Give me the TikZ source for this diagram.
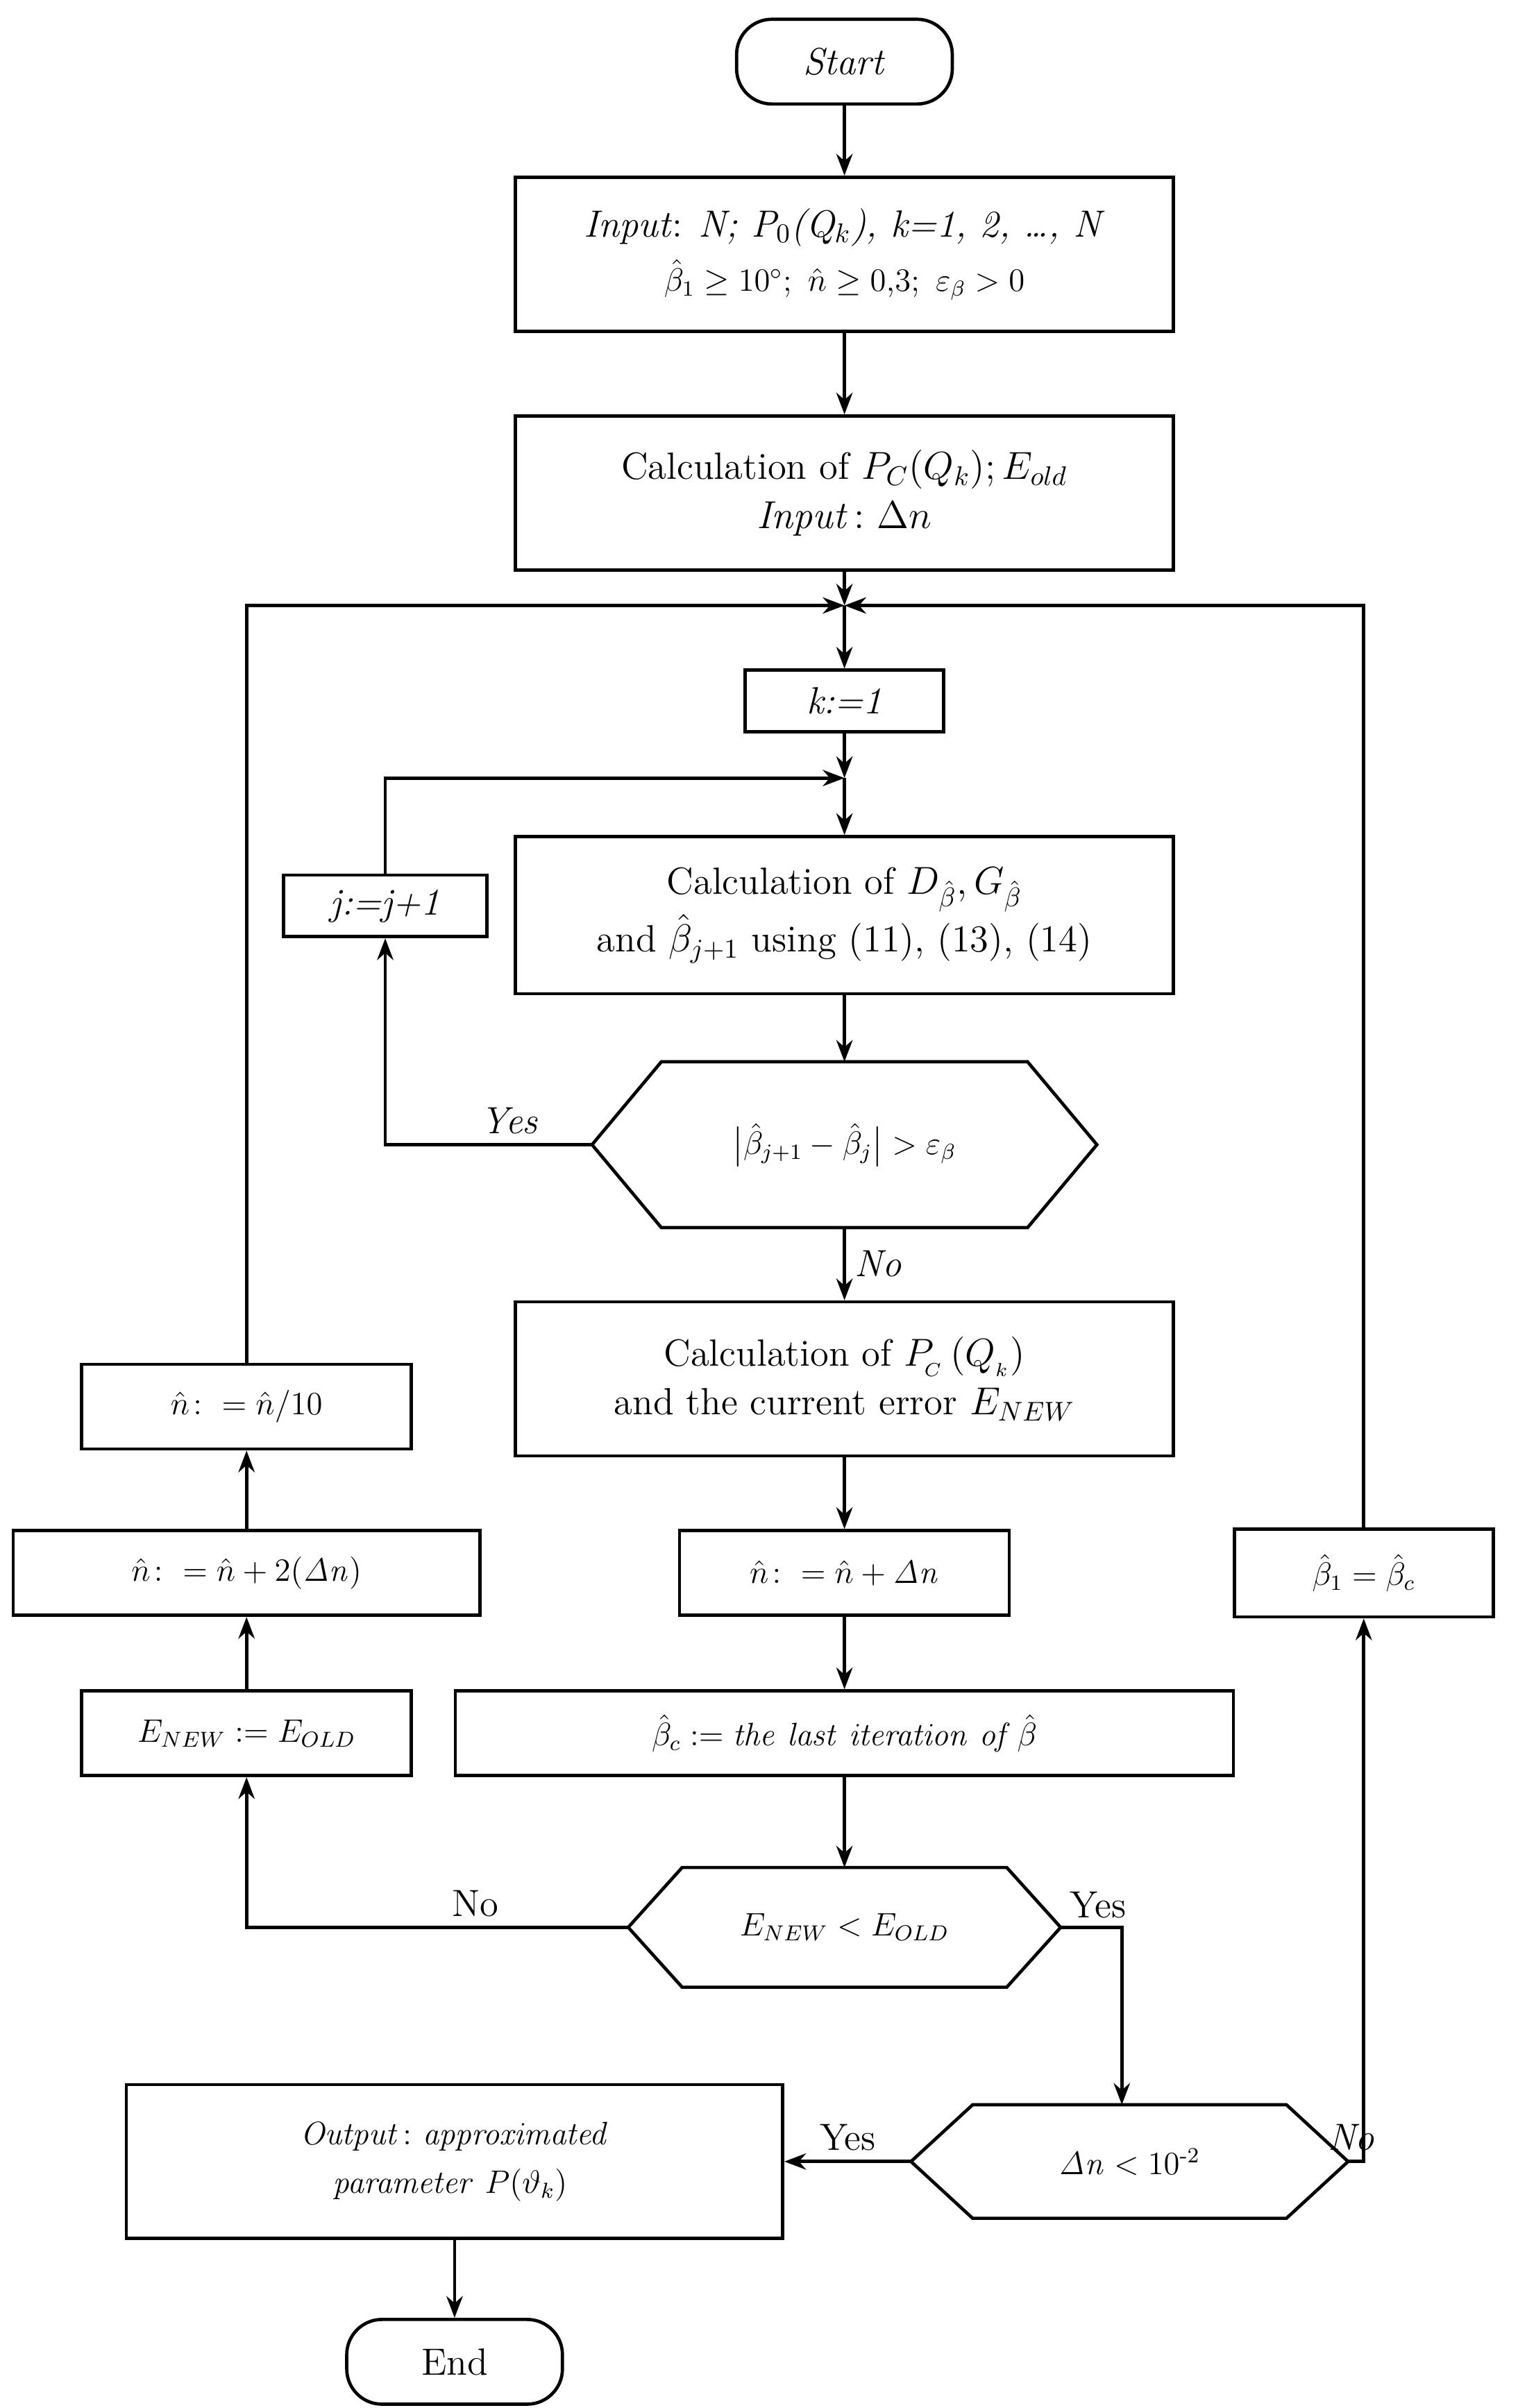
\documentclass[tikz,border=0pt]{standalone}
\usepackage{amsmath}
\usetikzlibrary{calc,arrows.meta}
\newcommand{\cdef}{\mathrel{:=}}
\begin{document}
\begin{tikzpicture}[x=0.02cm,y=-0.02cm,
    box/.style={draw,line width=1.2pt,align=center,inner sep=2pt,font=\fontsize{14}{18}\selectfont},
    term/.style={box,rounded corners=13pt,minimum width=2.8cm,minimum height=1.1cm},
    hexa/.style={align=center,inner sep=0pt,font=\fontsize{14}{18}\selectfont},
    line/.style={line width=1.2pt},
    arr/.style={line,-{Stealth[length=8pt,width=6pt]}},
    lab/.style={font=\fontsize{14}{17}\selectfont}]
\useasboundingbox (0,0) rectangle (985,1563);
% terminals and boxes
\node[term] (start) at (548,40) {\textit{Start}};
\node[box,minimum width=8.54cm,minimum height=2cm] (inp) at (548,165)
  {\textit{Input}: \textit{N; P$_0$(Q$_k$), k=1, 2, \dots, N}\\[2pt]
   \large$\hat\beta_1\ge 10^\circ;\ \hat n\ge 0{,}3;\ \varepsilon_\beta>0$};
\node[box,minimum width=8.54cm,minimum height=2cm] (calc) at (548,320)
  {Calculation of $P_C(Q_k);E_{old}$\\ $\mathit{Input}\colon\Delta n$};
\coordinate (mrg) at (548,393);
\node[box,minimum width=2.58cm,minimum height=0.8cm] (k) at (548,455) {\textit{k:=1}};
\coordinate (jnc) at (548,505);
\node[box,minimum width=8.54cm,minimum height=2.04cm] (dcalc) at (548,594)
  {Calculation of $D_{\hat\beta},G_{\hat\beta}$\\ and $\hat\beta_{j+1}$ using (11), (13), (14)};
\node[box,minimum width=2.64cm,minimum height=0.8cm] (j) at (250,588) {\textit{j:=j+1}};
\node[hexa,minimum width=6.54cm,minimum height=2.14cm] (h1) at (548,743)
  {\large$\bigl|\hat\beta_{j+1}-\hat\beta_j\bigr|>\varepsilon_\beta$};
\node[box,minimum width=8.54cm,minimum height=2cm] (pc) at (548,895)
  {Calculation of $P_{\!_C}\,(Q_{_k})$\\ and the current error $E_{NEW}$};
\node[box,minimum width=4.28cm,minimum height=1.1cm] (nn) at (548,1021) {\large$\hat n\colon=\hat n+\mathit{\Delta n}$};
\node[box,minimum width=10.1cm,minimum height=1.1cm] (bc) at (548,1125)
  {\large$\hat\beta_c\cdef \mathit{the\ last\ iteration\ of}\,\hat\beta$};
\node[hexa,minimum width=5.6cm,minimum height=1.54cm] (h2) at (548,1251) {\large$E_{NEW}<E_{OLD}$};
\node[box,minimum width=4.28cm,minimum height=1.1cm] (eo) at (160,1125) {\large$E_{NEW}\cdef E_{OLD}$};
\node[box,minimum width=6.06cm,minimum height=1.1cm] (n2) at (160,1021) {\large$\hat n\colon=\hat n+2(\mathit{\Delta n})$};
\node[box,minimum width=4.28cm,minimum height=1.1cm] (n10) at (160,913) {\large$\hat n\colon=\hat n/10$};
\node[hexa,minimum width=5.66cm,minimum height=1.46cm] (h3) at (733,1403) {\large$\mathit{\Delta n}<10^{\text{-2}}$};
\node[box,minimum width=3.36cm,minimum height=1.14cm] (b1) at (885,1021) {\large$\hat\beta_1=\hat\beta_c$};
\node[box,minimum width=8.52cm,minimum height=2cm,align=left] (out) at (295,1403)
  {\large$\mathit{Output}\colon\mathit{approximated}$\\ \large$\quad\mathit{parameter}\ P(\vartheta_k)$};
\node[term] (end) at (295,1533) {End};
% hexagon outlines
\foreach \h/\c in {h1/45,h2/35,h3/40}{
  \draw[line] (\h.west) -- ($(\h.north west)+(\c,0)$) -- ($(\h.north east)+(-\c,0)$)
    -- (\h.east) -- ($(\h.south east)+(-\c,0)$) -- ($(\h.south west)+(\c,0)$) -- cycle;}
% connectors
\draw[arr] (start) -- (inp);
\draw[arr] (inp) -- (calc);
\draw[arr] (calc) -- (mrg);
\draw[arr] (mrg) -- (k);
\draw[arr] (k) -- (jnc);
\draw[arr] (jnc) -- (dcalc);
\draw[arr] (dcalc) -- (h1);
\draw[arr] (h1.west) -| (j.south) node[pos=0.2,above,lab] {\textit{Yes}};
\draw[arr] (j.north) |- (jnc);
\draw[arr] (h1) -- (pc) node[pos=0.5,right,lab] {\textit{No}};
\draw[arr] (pc) -- (nn);
\draw[arr] (nn) -- (bc);
\draw[arr] (bc) -- (h2);
\draw[arr] (h2.west) -| (eo.south) node[pos=0.2,above,lab] {No};
\draw[arr] (eo) -- (n2);
\draw[arr] (n2) -- (n10);
\draw[arr] (n10.north) |- (mrg);
\coordinate (yes2) at (728,1251);
\draw[arr] (h2.east) -- (yes2) -- (yes2 |- h3.north);
\node[lab,above right] at (h2.east) {Yes};
\draw[arr] (h3.west) -- (out.east) node[pos=0.5,above,lab] {Yes};
\draw[arr] (h3.east) -| (b1.south) node[pos=0.1,above,lab] {\textit{No}};
\draw[arr] (b1.north) |- (mrg);
\draw[arr] (out) -- (end);
\end{tikzpicture}
\end{document}
